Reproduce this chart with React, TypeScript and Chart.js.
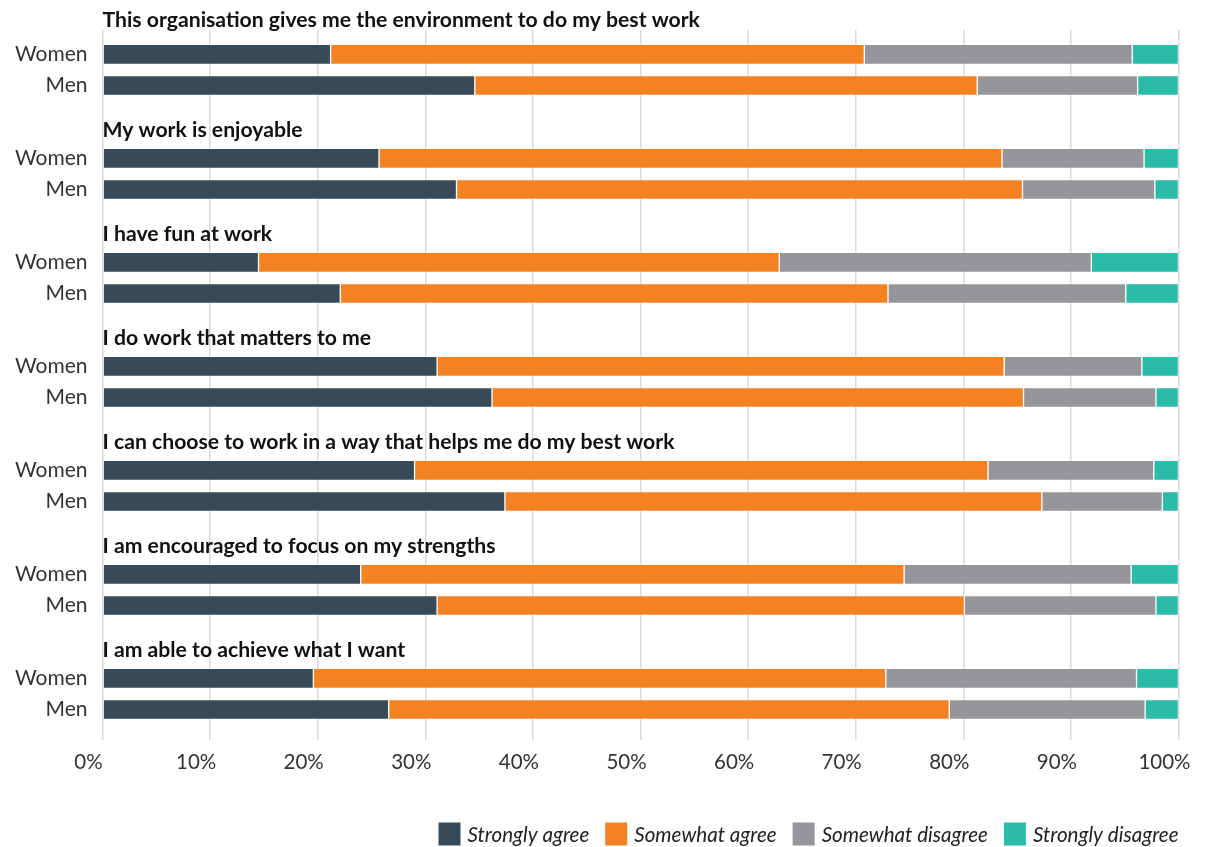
import { useEffect, useRef } from "react";
import { Chart, registerables } from "chart.js";

Chart.register(...registerables);

const questions = [
  "This organisation gives me the environment to do my best work",
  "My work is enjoyable",
  "I have fun at work",
  "I do work that matters to me",
  "I can choose to work in a way that helps me do my best work",
  "I am encouraged to focus on my strengths",
  "I am able to achieve what I want",
];
const genders = ["Women", "Men"];
const seriesNames = ["Strongly agree", "Somewhat agree", "Somewhat disagree", "Strongly disagree"];
const seriesColors = ["#374a59", "#f38322", "#959699", "#2bbba9"];

// one value per row: Q1 Women, Q1 Men, Q2 Women, Q2 Men, ...
const stronglyAgree = [21.2, 34.6, 25.7, 32.9, 14.5, 22.1, 31.1, 36.2, 29.0, 37.4, 24.0, 31.1, 19.6, 26.6];
const somewhatAgree = [49.6, 46.7, 57.9, 52.6, 48.4, 50.9, 52.7, 49.4, 53.3, 49.9, 50.5, 49.0, 53.2, 52.1];
const somewhatDisagree = [24.9, 14.9, 13.2, 12.3, 29.0, 22.1, 12.8, 12.3, 15.4, 11.2, 21.1, 17.8, 23.3, 18.2];
const stronglyDisagree = [4.3, 3.8, 3.2, 2.2, 8.1, 4.9, 3.4, 2.1, 2.3, 1.5, 4.4, 2.1, 3.9, 3.1];

const xTickValues = [0, 10, 20, 30, 40, 50, 60, 70, 80, 90, 100];

// layout constants (row slots on the index axis)
const GROUP_PITCH = 10;
const GENDER_GAP = 3;

const rowPositions = questions.flatMap((_, g) => genders.map((__, k) => g * GROUP_PITCH + k * GENDER_GAP));
const rowLabels = questions.flatMap(() => genders);

export default function App() {
  const ref = useRef<HTMLCanvasElement | null>(null);

  useEffect(() => {
    if (!ref.current) return;
    Chart.defaults.font.family = "Lato";
    const allSeries = [stronglyAgree, somewhatAgree, somewhatDisagree, stronglyDisagree];

    const titlePlugin = {
      id: "groupTitles",
      afterDraw(chart: any) {
        const { ctx, chartArea, scales } = chart;
        const y = scales.y;
        ctx.save();
        ctx.font = "bold 21.2px Lato";
        ctx.fillStyle = "#111111";
        ctx.textAlign = "left";
        ctx.textBaseline = "middle";
        questions.forEach((q, g) => {
          const py = y.getPixelForValue(g * GROUP_PITCH) - (g === 0 ? 34 : 28.5);
          ctx.fillText(q, chartArea.left, py);
        });
        ctx.restore();
      },
    };

    const legendPlugin = {
      id: "customLegend",
      afterDraw(chart: any) {
        const { ctx, chartArea } = chart;
        const datasets = chart.data.datasets;
        ctx.save();
        ctx.font = "italic 20.6px Lato";
        ctx.textBaseline = "middle";
        ctx.textAlign = "left";
        const box = 22;
        const boxH = 23;
        const gapText = 7;
        const gapItem = 16;
        const cy = 826;
        const widths = datasets.map((ds: any) => box + gapText + ctx.measureText(ds.label).width);
        const total = widths.reduce((a: number, b: number) => a + b, 0) + gapItem * (datasets.length - 1);
        let x = chartArea.right - total;
        datasets.forEach((ds: any, i: number) => {
          ctx.fillStyle = ds.backgroundColor;
          ctx.fillRect(x, cy - boxH / 2, box, boxH);
          ctx.fillStyle = "#222222";
          ctx.fillText(ds.label, x + box + gapText, cy + 1);
          x += widths[i] + gapItem;
        });
        ctx.restore();
      },
    };

    const chart = new Chart(ref.current, {
      type: "bar",
      data: {
        datasets: allSeries.map((vals, si) => ({
          label: seriesNames[si],
          data: vals.map((v, r) => ({ x: v, y: rowPositions[r] })),
          backgroundColor: seriesColors[si],
          borderColor: "rgba(255,255,255,0.35)",
          borderWidth: 1,
          borderSkipped: false,
          barThickness: 20,
        })),
      },
      options: {
        indexAxis: "y",
        animation: false,
        responsive: true,
        maintainAspectRatio: false,
        layout: { padding: { top: 22, right: 18.5, bottom: 67, left: 0 } },
        scales: {
          x: {
            type: "linear",
            stacked: true,
            min: 0,
            max: 100,
            afterBuildTicks: (scale: any) => {
              scale.ticks = xTickValues.map((v) => ({ value: v }));
            },
            afterFit: (scale: any) => {
              scale.paddingLeft = 0;
              scale.paddingRight = 0;
              scale.height = 40;
            },
            grid: { color: "#d9d9d9", lineWidth: 1.5, drawTicks: false },
            border: { display: false },
            ticks: {
              padding: 10,
              labelOffset: -14,
              color: "#333333",
              font: { size: 20.5 },
              callback: (v: any) => v + "%",
            },
          },
          y: {
            type: "linear",
            stacked: true,
            reverse: true,
            offset: false,
            min: -2.34,
            max: 65.93,
            afterBuildTicks: (scale: any) => {
              scale.ticks = rowPositions.map((v) => ({ value: v }));
            },
            afterFit: (scale: any) => {
              scale.width = 94.5;
              scale.paddingTop = 0;
              scale.paddingBottom = 0;
            },
            grid: { display: false, drawTicks: false, offset: false },
            border: { display: false },
            ticks: {
              autoSkip: false,
              padding: 15,
              color: "#333333",
              font: { size: 21 },
              callback: (v: any) => {
                const i = rowPositions.indexOf(Number(v));
                return i >= 0 ? rowLabels[i] : "";
              },
            },
          },
        },
        plugins: {
          title: { display: false },
          tooltip: { enabled: false },
          legend: { display: false },
        },
      },
      plugins: [titlePlugin, legendPlugin],
    });
    return () => chart.destroy();
  }, []);

  return (
    <div style={{ position: "absolute", left: 8, top: 8, width: 1189, height: 839 }}>
      <canvas ref={ref} />
    </div>
  );
}
